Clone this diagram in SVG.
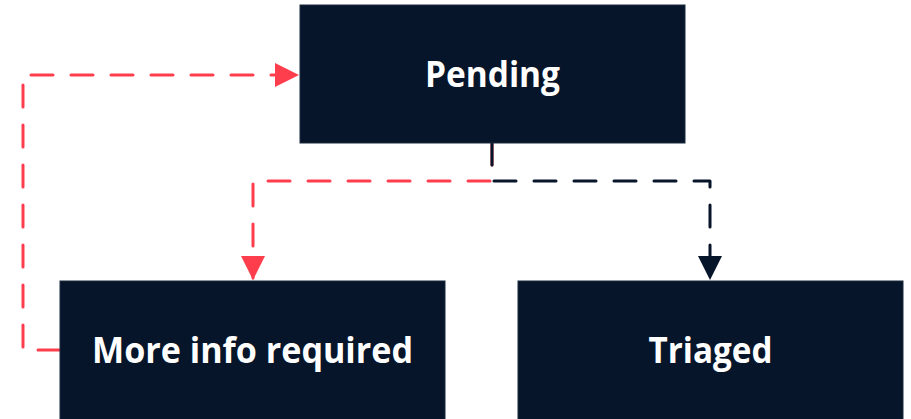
<svg xmlns="http://www.w3.org/2000/svg" width="911" height="419" viewBox="0 0 911 419">
  <defs>
    <style>
      .box { fill: #06152a; stroke: #1b2a3e; stroke-width: 1; }
      .lbl { font-family: "Open Sans", "Noto Sans", sans-serif; font-weight: bold; font-size: 35px; fill: #ffffff; text-anchor: middle; }
      .edge { fill: none; stroke-width: 3; stroke-dasharray: 22 18; stroke-linecap: round; stroke-linejoin: round; }
      .red { stroke: #ff3e4d; }
      .dark { stroke: #06152a; }
    </style>
    <marker id="arrRed" viewBox="0 0 24 24" refX="22" refY="12" markerWidth="24" markerHeight="24" markerUnits="userSpaceOnUse" orient="auto">
      <path d="M0,0 L24,12 L0,24 Z" fill="#ff3e4d"/>
    </marker>
    <marker id="arrDark" viewBox="0 0 24 24" refX="22" refY="12" markerWidth="24" markerHeight="24" markerUnits="userSpaceOnUse" orient="auto">
      <path d="M0,0 L24,12 L0,24 Z" fill="#06152a"/>
    </marker>
  </defs>
  <g id="connectors">
    <path id="e-more-pending" class="edge red" d="M60,350 L23,350 L23,75 L297,75" marker-end="url(#arrRed)"/>
    <path id="e-pending-more" class="edge red" d="M492,143 L492,181 L253,181 L253,278" marker-end="url(#arrRed)"/>
    <path id="e-pending-triaged" class="edge dark" d="M492,143 L492,181 L710,181 L710,278" marker-end="url(#arrDark)"/>
  </g>
  <g id="node-pending">
    <rect class="box" x="300" y="5" width="385" height="138"/>
    <text class="lbl" x="492.5" y="87" textLength="135" lengthAdjust="spacingAndGlyphs">Pending</text>
  </g>
  <g id="node-more-info">
    <rect class="box" x="60" y="281" width="385" height="140"/>
    <text class="lbl" x="252.5" y="363" textLength="321" lengthAdjust="spacingAndGlyphs">More info required</text>
  </g>
  <g id="node-triaged">
    <rect class="box" x="518" y="281" width="385" height="140"/>
    <text class="lbl" x="710.5" y="363" textLength="124" lengthAdjust="spacingAndGlyphs">Triaged</text>
  </g>
</svg>
